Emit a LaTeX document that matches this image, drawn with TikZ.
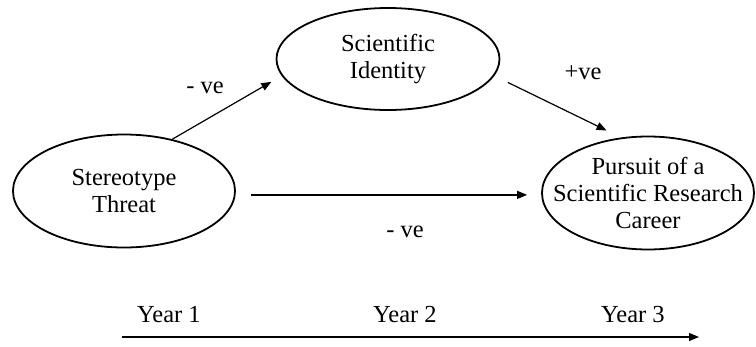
\documentclass[tikz,border=0pt]{standalone}
\usepackage{fontspec}
\setmainfont{Liberation Serif}
\usetikzlibrary{shapes.geometric,arrows.meta}
\begin{document}
\begin{tikzpicture}[x=1pt,y=-1pt,
  oval/.style={draw,ellipse,line width=1.8pt,inner sep=0pt,align=center,
    font=\fontsize{24.5}{27}\selectfont},
  arr/.style={line width=1.2pt,-{Triangle[length=10pt,width=8pt]}},
  lbl/.style={font=\fontsize{24.5}{27}\selectfont,anchor=base,inner sep=0pt}]
\useasboundingbox (0,0) rectangle (756,346);
\node[oval,minimum width=222pt,minimum height=113pt] (st) at (124,191) {Stereotype\\Threat};
\node[oval,minimum width=223pt,minimum height=102pt] (id) at (388,59) {Scientific\\Identity};
\node[oval,inner xsep=-30pt,minimum width=212pt,minimum height=113pt] (pu) at (648,193) {Pursuit of a\\Scientific Research\\Career};
\draw[arr,shorten >=12pt] (st.47) -- (id.189);
\draw[arr,shorten <=15pt,shorten >=16pt] (id.-9) -- (pu.116);
\draw[arr,shorten <=15pt,shorten >=14pt] (st.-2) -- (st.-2 -| pu.west);
\node[lbl] (l1) at (205,93) {- ve};
\node[lbl] (l2) at (583,79) {+ve};
\node[lbl] (l3) at (405,237) {- ve};
\node[lbl] (y1) at (169,322) {Year 1};
\node[lbl] (y2) at (405,322) {Year 2};
\node[lbl] (y3) at (633,322) {Year 3};
\coordinate (t0) at (122,337);
\coordinate (t1) at (699,337);
\draw[arr] (t0) -- (t1);
\end{tikzpicture}
\end{document}
